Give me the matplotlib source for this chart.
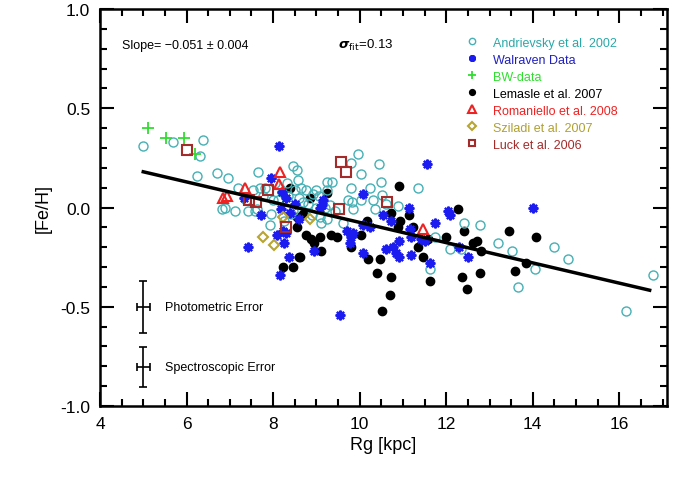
import numpy as np
import matplotlib
matplotlib.use('Agg')
from matplotlib import pyplot as plt
from matplotlib.ticker import MultipleLocator

# Andrievsky et al. 2002
andr_x = [5.0, 5.69, 6.37, 6.31, 6.25, 6.71, 6.96, 7.19, 6.81, 6.9, 7.12, 7.42, 7.58,
          7.64, 7.69, 7.81, 7.54, 7.38, 7.63, 7.77, 8.0, 8.11, 8.04, 8.31, 8.46, 8.56,
          8.58, 8.65, 8.77, 8.92, 9.0, 9.05, 9.25, 9.35, 9.25, 7.92, 7.96, 8.42, 9.0,
          9.19, 9.08, 9.25, 9.42, 9.62, 9.31, 9.96, 9.81, 10.02, 10.44, 9.81, 10.25,
          10.49, 11.35, 9.73, 9.82, 10.04, 10.31, 10.52, 10.88, 10.35, 9.85, 12.42,
          12.77, 13.19, 13.52, 12.08, 12.35, 14.04, 13.65, 11.63, 14.5, 14.81, 16.77,
          16.15, 8.2, 8.35, 8.5, 8.6, 8.7, 8.8, 8.45, 8.9, 9.1, 11.75, 10.6, 8.25]
andr_y = [0.31, 0.33, 0.34, 0.26, 0.16, 0.175, 0.15, 0.10, -0.01, 0.0, -0.02, -0.02, -0.02,
          0.18, 0.10, 0.10, 0.09, 0.04, -0.01, 0.06, 0.04, 0.04, 0.125, 0.125, 0.21, 0.19,
          0.14, 0.10, 0.09, 0.07, 0.09, 0.06, 0.13, 0.13, 0.09, -0.09, -0.035, -0.035, 0.0,
          0.0, -0.05, -0.06, -0.02, -0.08, 0.015, 0.27, 0.225, 0.17, 0.22, 0.10, 0.10,
          0.13, 0.10, 0.04, 0.03, 0.04, 0.04, 0.065, 0.01, -0.01, -0.01, -0.08,
          -0.09, -0.18, -0.22, -0.21, -0.21, -0.31, -0.40, -0.31, -0.20, -0.26, -0.34,
          -0.52, 0.08, 0.06, 0.09, 0.05, 0.03, 0.02, -0.02, -0.04, -0.08, -0.15, 0.02, -0.07]

# Walraven data
walr_x = [8.13, 7.96, 7.32, 7.71, 8.21, 8.19, 8.5, 8.08, 8.25, 8.22, 8.3, 7.41, 8.36,
          8.15, 8.94, 9.12, 9.15, 9.08, 9.54, 11.56, 10.08, 11.13, 10.53, 10.73, 12.04,
          12.08, 14.0, 9.71, 9.81, 9.77, 9.85, 10.08, 10.23, 10.08, 10.6, 10.78, 10.92,
          10.85, 10.91, 11.19, 11.73, 11.5, 11.19, 11.41, 11.63, 12.29, 12.5, 11.17,
          8.3, 8.4, 8.6]
walr_y = [0.31, 0.15, 0.05, -0.04, 0.08, -0.01, 0.02, -0.14, -0.18, -0.12, -0.13, -0.20, -0.25,
          -0.34, -0.22, 0.015, 0.04, 0.0, -0.54, 0.22, 0.07, 0.0, -0.04, -0.07, -0.02,
          -0.04, 0.0, -0.12, -0.15, -0.18, -0.13, -0.09, -0.10, -0.23, -0.21, -0.20, -0.17,
          -0.23, -0.25, -0.24, -0.08, -0.17, -0.15, -0.16, -0.28, -0.20, -0.25, -0.11,
          0.05, -0.03, -0.06]

# BW data
bw_x = [5.11, 5.52, 5.95, 6.19]
bw_y = [0.40, 0.35, 0.35, 0.27]

# Lemasle et al. 2007
lem_x = [8.38, 8.86, 9.25, 8.55, 8.68, 8.55, 8.77, 8.88, 8.95, 9.09, 9.33, 9.47, 9.1,
         8.63, 8.46, 8.23, 8.6, 10.9, 12.27, 10.16, 10.72, 10.94, 11.15, 11.23, 10.88,
         11.35, 11.46, 11.58, 12.0, 12.4, 12.62, 12.71, 12.81, 13.45, 14.08, 13.85,
         13.6, 12.77, 12.37, 12.48, 11.62, 10.69, 10.41, 10.73, 10.46, 10.2, 10.04,
         9.81, 10.52]
lem_y = [0.10, 0.05, 0.075, -0.05, -0.035, -0.10, -0.14, -0.16, -0.18, -0.15, -0.14, -0.15, -0.22,
         -0.25, -0.30, -0.30, -0.25, 0.11, -0.01, -0.07, -0.03, -0.07, -0.04, -0.10, -0.10,
         -0.20, -0.25, -0.16, -0.15, -0.12, -0.18, -0.17, -0.22, -0.12, -0.15, -0.28,
         -0.32, -0.33, -0.35, -0.41, -0.37, -0.44, -0.33, -0.35, -0.26, -0.26, -0.14,
         -0.20, -0.52]

# Romaniello et al. 2008
rom_x = [6.85, 6.93, 7.35, 8.15, 8.14, 11.46]
rom_y = [0.05, 0.06, 0.10, 0.18, 0.12, -0.11]

# Sziladi et al. 2007
szi_x = [7.77, 8.02, 8.23, 8.86]
szi_y = [-0.15, -0.19, -0.05, -0.06]

# Luck et al. 2006
luck_x = [6.0, 7.45, 7.6, 7.88, 8.3, 9.58, 9.68, 9.52, 10.62]
luck_y = [0.29, 0.04, 0.03, 0.09, -0.10, 0.23, 0.18, -0.01, 0.03]

fit_x = [5.0, 16.7]
slope = -0.051
fit_y0 = 0.18

if __name__ == '__main__':
    plt.rcParams['font.family'] = ['Liberation Sans', 'DejaVu Sans']
    fig = plt.figure(figsize=(6.81, 4.81), dpi=100)
    ax = fig.add_axes([0.1468, 0.1538, 0.8326, 0.8254])

    c_andr = '#45b0b5'
    c_walr = '#1c1cf0'
    c_bw = '#30dd30'
    c_rom = '#ee2222'
    c_szi = '#b8a532'
    c_luck = '#a52a2a'

    ax.plot(lem_x, lem_y, 'o', color='black', ms=6, ls='none', label='Lemasle et al. 2007', zorder=2)
    ax.plot(andr_x, andr_y, 'o', mfc='none', mec=c_andr, mew=1.0, ms=6.5, ls='none',
            label='Andrievsky et al. 2002', zorder=3)
    ax.plot(walr_x, walr_y, marker=(8, 2, 0), color=c_walr, mew=1.6, ms=7, ls='none',
            label='Walraven Data', zorder=4)
    ax.plot(bw_x, bw_y, '+', color=c_bw, mew=1.3, ms=8, ls='none', label='BW-data', zorder=4)
    ax.plot(rom_x, rom_y, '^', mfc='none', mec=c_rom, mew=1.5, ms=7.5, ls='none',
            label='Romaniello et al. 2008', zorder=4)
    ax.plot(szi_x, szi_y, 'D', mfc='none', mec=c_szi, mew=1.5, ms=5.5, ls='none',
            label='Sziladi et al. 2007', zorder=4)
    ax.plot(luck_x, luck_y, 's', mfc='none', mec=c_luck, mew=1.5, ms=7, ls='none',
            label='Luck et al. 2006', zorder=4)

    fx = np.array(fit_x)
    ax.plot(fx, fit_y0 + slope * (fx - fit_x[0]), color='black', lw=2.5, zorder=5)

    # error bars
    ax.errorbar([5.0], [-0.5], xerr=0.15, yerr=0.13, color='black', lw=1.2, capsize=3, capthick=1.2)
    ax.errorbar([5.0], [-0.805], xerr=0.15, yerr=0.10, color='black', lw=1.2, capsize=3, capthick=1.2)
    ax.text(5.5, -0.5, 'Photometric Error', fontsize=9, va='center', ha='left')
    ax.text(5.5, -0.805, 'Spectroscopic Error', fontsize=9, va='center', ha='left')

    ax.text(4.5, 0.82, 'Slope= \u22120.051 \u00b1 0.004', fontsize=9, va='center', ha='left')
    ax.text(9.49, 0.82, r'$\boldsymbol{\sigma}_{\rm fit}$=0.13',
            fontsize=9.5, va='center', ha='left')

    handles, labels = ax.get_legend_handles_labels()
    order = ['Andrievsky et al. 2002', 'Walraven Data', 'BW-data', 'Lemasle et al. 2007',
             'Romaniello et al. 2008', 'Sziladi et al. 2007', 'Luck et al. 2006']
    hmap = dict(zip(labels, handles))
    text_colors = ['#2aa8a8', '#2020c0', '#30dd30', 'black', '#ee2222', '#b0a030', '#a52a2a']
    ax.legend([hmap[k] for k in order], order, loc='upper left',
              bbox_to_anchor=(0.645, 0.93), frameon=False, fontsize=9,
              handlelength=1.0, handletextpad=1.2, labelspacing=0.4,
              borderpad=0, borderaxespad=0, markerscale=0.7,
              labelcolor=text_colors)

    ax.set_xlim(4, 17.1)
    ax.set_ylim(-1.0, 1.0)
    ax.xaxis.set_major_locator(MultipleLocator(2))
    ax.xaxis.set_minor_locator(MultipleLocator(0.5))
    ax.yaxis.set_major_locator(MultipleLocator(0.5))
    ax.yaxis.set_minor_locator(MultipleLocator(0.1))
    ax.tick_params(which='both', direction='in', top=True, right=True, width=1.5)
    ax.tick_params(which='major', length=10, labelsize=12.5, pad=7)
    ax.tick_params(which='minor', length=5)
    ax.yaxis.set_major_formatter(plt.FuncFormatter(lambda v, p: f'{v:.1f}'))
    for s in ax.spines.values():
        s.set_linewidth(1.8)
    ax.set_xlabel('Rg [kpc]', fontsize=13)
    ax.set_ylabel('[Fe/H]', fontsize=13, labelpad=6)

    plt.savefig('out.png', dpi=100)
